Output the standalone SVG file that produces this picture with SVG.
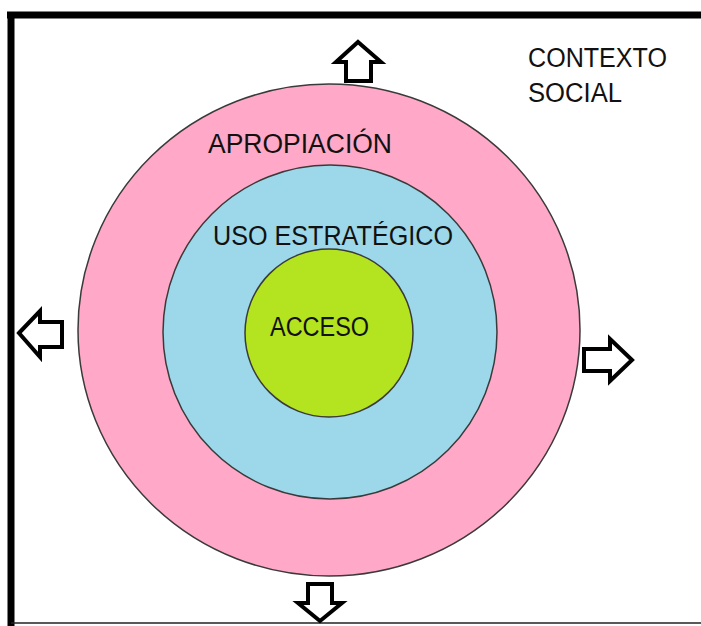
<svg xmlns="http://www.w3.org/2000/svg" width="701" height="626" viewBox="0 0 701 626">
<style>
.ring{stroke:#3a3a3a;stroke-width:1.5}
.arrow{fill:#fff;stroke:#000;stroke-width:4;stroke-linejoin:miter}
.lbl{font-family:"Liberation Sans",Arial,sans-serif;fill:#111;font-size:27px}
</style>
<rect width="701" height="626" fill="#fff"/>
<g id="frame">
<line x1="7" y1="15" x2="701" y2="15" stroke="#000" stroke-width="7"/>
<line x1="11" y1="12" x2="11" y2="626" stroke="#000" stroke-width="7"/>
<line x1="11" y1="623" x2="701" y2="623" stroke="#222" stroke-width="1.5"/>
</g>
<g id="apropiacion">
<ellipse class="ring" cx="329" cy="330" rx="251" ry="246" fill="#FFA8C7"/>
<text class="lbl" x="208" y="153" textLength="184" lengthAdjust="spacingAndGlyphs">APROPIACIÓN</text>
</g>
<g id="uso">
<circle class="ring" cx="330" cy="332" r="167" fill="#9CD8EA"/>
<text class="lbl" x="213" y="245" textLength="240" lengthAdjust="spacingAndGlyphs">USO ESTRATÉGICO</text>
</g>
<g id="acceso">
<circle class="ring" cx="329" cy="333" r="84" fill="#B4E31F"/>
<text class="lbl" x="270" y="336" textLength="99" lengthAdjust="spacingAndGlyphs">ACCESO</text>
</g>
<g id="contexto">
<text class="lbl" x="528" y="67" textLength="139" lengthAdjust="spacingAndGlyphs">CONTEXTO</text>
<text class="lbl" x="528" y="102" textLength="94" lengthAdjust="spacingAndGlyphs">SOCIAL</text>
</g>
<g id="connectors">
<polygon class="arrow" points="358,42 381,62 371,62 371,81 346,81 346,62 336,62"/>
<polygon class="arrow" points="19,333 40,311 40,322 62,322 62,347 40,347 40,357"/>
<polygon class="arrow" points="632,360 610,339 610,349 584,349 584,371 610,371 610,381"/>
<polygon class="arrow" points="320,621 298,603 308,603 308,584 332,584 332,603 342,603"/>
</g>
</svg>
